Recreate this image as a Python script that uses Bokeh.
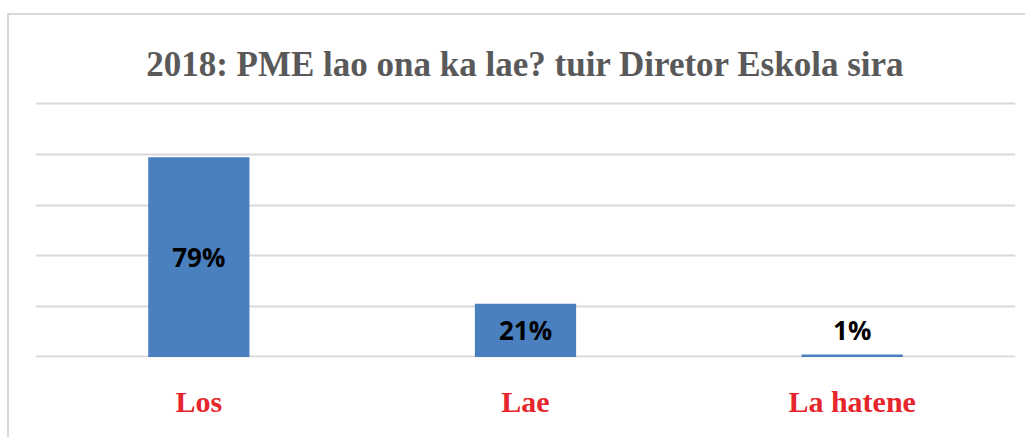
from bokeh.plotting import figure
from bokeh.models import ColumnDataSource, FixedTicker, Spacer
from bokeh.layouts import column, row
from bokeh.core.properties import value
from bokeh.embed import file_html
from bokeh.resources import INLINE

title_text = "2018: PME lao ona ka lae? tuir Diretor Eskola sira"
categories = ["Los", "Lae", "La hatene"]
values = [0.79, 0.21, 0.01]
labels = ["79%", "21%", "1%"]
y_ticks = [0.0, 0.2, 0.4, 0.6, 0.8, 1.0]

label_y = [v / 2 if v > 0.05 else v for v in values]
label_off = [0 if v > 0.05 else -24 for v in values]

src = ColumnDataSource(dict(cat=categories, val=values, lab=labels, ly=label_y, loff=label_off))

W, H = 1018, 424
# frame extends up to the top so that the title can sit inside it
p = figure(
    x_range=categories, y_range=(-0.002, 1.3498), width=W, height=H,
    output_backend="svg", toolbar_location=None,
    min_border_left=26, min_border_right=12, min_border_top=0, min_border_bottom=82,
)
p.styles = {"border-left": "2px solid #d9d9d9", "border-top": "2px solid #d9d9d9"}
p.outline_line_color = None
p.background_fill_color = "white"
p.border_fill_color = "white"

p.text(x=[categories[len(categories) // 2]], y=[1.158], text=[title_text],
       text_align="center", text_baseline="alphabetic",
       text_font=value("Liberation Serif"), text_font_size="35px",
       text_font_style="bold", text_color="#595959")

p.vbar(x="cat", top="val", width=0.31, source=src, fill_color="#4a80bf", line_color=None)
p.text(x="cat", y="ly", text="lab", source=src, y_offset="loff",
       text_align="center", text_baseline="middle",
       text_font=value("Open Sans"), text_font_style="bold", text_font_size="26px",
       text_color="black")

p.xgrid.grid_line_color = None
p.ygrid.grid_line_color = "#d9d9d9"
p.ygrid.grid_line_width = 2
p.yaxis.ticker = FixedTicker(ticks=y_ticks)
p.ygrid.ticker = FixedTicker(ticks=y_ticks)
p.yaxis.visible = False

p.x_range.range_padding = 0
p.xaxis.axis_line_color = None
p.xaxis.major_tick_line_color = None
p.xaxis.minor_tick_line_color = None
p.xaxis.major_tick_out = 0
p.xaxis.major_label_standoff = 27
p.xaxis.major_label_text_font = "Liberation Serif"
p.xaxis.major_label_text_font_style = "bold"
p.xaxis.major_label_text_font_size = "30px"
p.xaxis.major_label_text_color = "#e6262c"

layout = column(Spacer(height=13), row(Spacer(width=7), p, spacing=0), spacing=0)
open("out.html", "w").write(file_html(layout, INLINE))
